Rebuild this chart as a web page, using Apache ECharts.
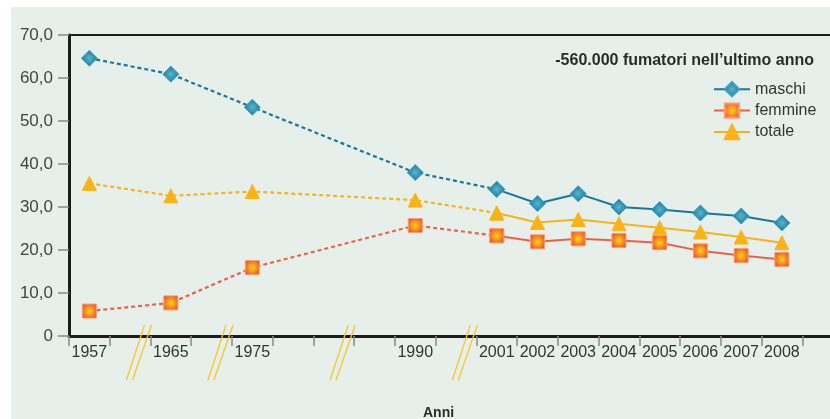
<!DOCTYPE html>
<html>
<head>
<meta charset="utf-8">
<script src="https://cdn.jsdelivr.net/npm/echarts@6/dist/echarts.min.js"></script>
<style>
  html, body { margin: 0; padding: 0; background: #ffffff; }
  #panel { position: absolute; left: 11px; top: 7px; width: 819px; height: 412px; background: #e7efeb; }
  #chart { position: absolute; left: 0; top: 0; width: 830px; height: 419px; }
</style>
</head>
<body>
<div id="panel"></div>
<div id="chart"></div>
<script>
// Axis categories: blank slots stand for the skipped years between surveys
const categories = ['1957', '', '1965', '', '1975', '', '', '', '1990', '', '2001', '2002', '2003', '2004', '2005', '2006', '2007', '2008', ''];

// Smokers (%) by sex
const maschi  = [64.6, null, 60.9, null, 53.2, null, null, null, 38.0, null, 34.1, 30.8, 33.1, 30.0, 29.4, 28.6, 27.9, 26.3];
const femmine = [5.8,  null, 7.7,  null, 15.9, null, null, null, 25.7, null, 23.3, 21.9, 22.6, 22.2, 21.7, 19.8, 18.7, 17.8];
const totale  = [35.5, null, 32.6, null, 33.6, null, null, null, 31.6, null, 28.6, 26.4, 27.1, 26.1, 25.2, 24.2, 23.0, 21.7];

// Axis breaks sit on these category boundaries
const breakBoundaries = [2, 4, 7, 10];

const yTicks = { min: 0, max: 70, interval: 10 };
const firstAnnual = 10; // index of 2001: dashed before, solid after

const FONT = '"Liberation Sans", Arial, sans-serif';

function split(values) {
  const dashed = values.map((v, i) => (i <= firstAnnual ? v : null));
  const solid = values.map((v, i) => (i >= firstAnnual ? v : null));
  return { dashed, solid };
}

function radial(inner, outer) {
  return {
    type: 'radial', x: 0.5, y: 0.5, r: 0.6,
    colorStops: [{ offset: 0, color: inner }, { offset: 1, color: outer }]
  };
}

const styles = {
  maschi:  { line: '#17789a', fill: radial('#57b6d0', '#0a6d91'), border: '#3f9fbf', symbol: 'diamond', size: 16 },
  femmine: { line: '#ef6040', fill: radial('#ffd51c', '#ee4a1f'), border: '#f79a82', symbol: 'rect', size: 14 },
  totale:  { line: '#f8b21a', fill: '#fab317', border: '#fab317', symbol: 'triangle', size: 14 }
};

const seriesData = { maschi, femmine, totale };
const series = [];
Object.keys(seriesData).forEach(name => {
  const st = styles[name];
  const parts = split(seriesData[name]);
  const common = {
    name,
    type: 'line',
    symbol: st.symbol,
    symbolSize: st.size,
    connectNulls: true,
    itemStyle: { color: st.fill, borderColor: st.border, borderWidth: 1 },
    emphasis: { disabled: true },
    z: 3
  };
  series.push(Object.assign({}, common, {
    data: parts.solid,
    lineStyle: { color: st.line, width: 2 }
  }));
  series.push(Object.assign({}, common, {
    data: parts.dashed,
    lineStyle: { color: st.line, width: 2.2, type: [4, 3] }
  }));
});

const chart = echarts.init(document.getElementById('chart'), null, { renderer: 'canvas' });

chart.setOption({
  backgroundColor: 'transparent',
  animation: false,
  title: [
    {
      text: '-560.000 fumatori nell\u2019ultimo anno',
      right: 11, top: 48,
      textStyle: { fontFamily: FONT, fontSize: 16, fontWeight: 'bold', color: '#2b2b2b' }
    },
    {
      text: 'Anni',
      left: 418, top: 401,
      textStyle: { fontFamily: FONT, fontSize: 14, fontWeight: 'bold', color: '#2b2b2b' }
    }
  ],
  legend: {
    orient: 'vertical',
    left: 708, top: 76,
    itemWidth: 36, itemHeight: 18, itemGap: 5,
    data: ['maschi', 'femmine', 'totale'],
    textStyle: { fontFamily: FONT, fontSize: 16, color: '#333' },
    selectedMode: false
  },
  grid: {
    left: 69, top: 35, width: 774, height: 301,
    outerBoundsMode: 'none',
    containLabel: false,
    show: true, borderColor: '#1c1c1c', borderWidth: 2, backgroundColor: 'transparent'
  },
  xAxis: {
    type: 'category',
    data: categories,
    boundaryGap: true,
    axisLine: { lineStyle: { color: '#1c1c1c', width: 3 } },
    axisTick: { show: true, interval: 0, length: 10, lineStyle: { color: '#8a8a8a', width: 1.5 } },
    axisLabel: { interval: 0, margin: 9, fontFamily: FONT, fontSize: 16, color: '#333' },
    splitLine: { show: false }
  },
  yAxis: {
    type: 'value',
    min: yTicks.min, max: yTicks.max, interval: yTicks.interval,
    axisLine: { show: true, lineStyle: { color: '#1c1c1c', width: 3 } },
    axisTick: { show: true, length: 11, lineStyle: { color: '#8a8a8a', width: 1.5 } },
    axisLabel: {
      margin: 16, fontFamily: FONT, fontSize: 17, color: '#444',
      formatter: v => (v === 0 ? '0' : v.toFixed(1).replace('.', ','))
    },
    splitLine: { show: false }
  },
  series
});

// Double-slash break marks placed on the category boundaries
function drawBreaks() {
  const axisY = chart.convertToPixel({ yAxisIndex: 0 }, 0);
  const elements = [];
  breakBoundaries.forEach(k => {
    const b = (chart.convertToPixel({ xAxisIndex: 0 }, k - 1) + chart.convertToPixel({ xAxisIndex: 0 }, k)) / 2;
    [[-24, -6], [-18, 1]].forEach(([dxBottom, dxTop]) => {
      elements.push({
        type: 'line',
        z: 10,
        shape: { x1: b + dxBottom, y1: axisY + 44, x2: b + dxTop, y2: axisY - 11 },
        style: { stroke: '#f7c72a', lineWidth: 1.3 }
      });
    });
  });
  chart.setOption({ graphic: elements });
}
drawBreaks();
</script>
</body>
</html>
